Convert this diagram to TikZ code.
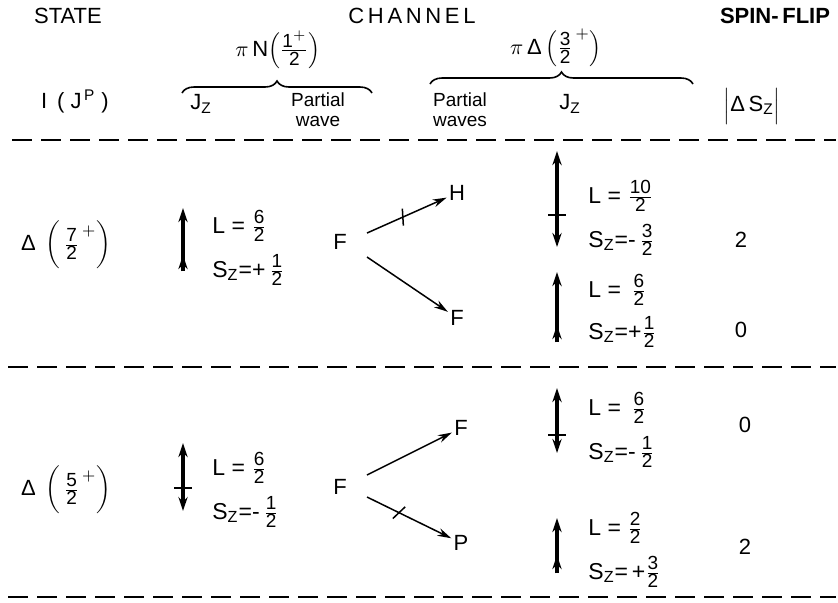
\documentclass[tikz,border=0pt]{standalone}
\usepackage{fontspec}
\setmainfont{Liberation Sans}
\usepackage{tikz}
\usetikzlibrary{arrows.meta,calc,decorations.pathreplacing,decorations.markings,positioning}

% stacked fraction in the text font
\newcommand{\fr}[2]{\ensuremath{\frac{\mbox{\fontsize{9.5}{10}\selectfont #1}}{\mbox{\fontsize{9.5}{10}\selectfont #2}}}}
\newcommand{\Sz}{S\textsubscript{Z}}

\begin{document}
\begin{tikzpicture}[x=0.5pt,y=-0.5pt,>=Stealth,
	font=\fontsize{11}{13}\selectfont,
	lbl/.style={inner sep=1pt},
	lw/.style={inner sep=0pt,anchor=west,font=\fontsize{11.5}{13}\selectfont},
	spin/.style={line width=1.8pt,-{Stealth[length=7pt,width=4.6pt]}},
	conn/.style={line width=0.75pt,-{Stealth[length=7pt,width=4pt]}},
	ticked/.style={postaction={decorate,decoration={markings,
		mark=at position #1 with {\draw[-,line width=0.75pt] (-1.5pt,-4pt) -- (1.5pt,4pt);}}}},
	sep/.style={line width=1.1pt,dash pattern=on 10pt off 4.5pt},
	brc/.style={decorate,decoration={brace,amplitude=6pt},line width=0.8pt}]

	\useasboundingbox (0,0) rectangle (838,602);

	% Column headings
	\node[lbl] (state) at (68,16) {STATE};
	\node[lbl] (channel) at (412,16) {C\,H\,A\,N\,N\,E\,L};
	\node[lbl,font=\fontsize{11}{13}\selectfont\bfseries] (spinflip) at (775,16) {SPIN-\,FLIP};

	\node[lbl] (piN) at (278,50) {$\pi$\,N$\Big(\fr{1$^{+}$}{2}\Big)$};
	\node[lbl] (piD) at (556,48) {$\pi$\,Δ\,$\Big(\fr{3}{2}^{\,+}\Big)$};
	\draw[brc] (182,93) -- (372,93);
	\draw[brc] (430,84) -- (693,84);

	\node[lbl] (IJP) at (75,101) {I\ \,( J\textsuperscript{\,P} )};
	\node[lbl] (Jz1) at (201,104) {J\textsubscript{Z}};
	\node[lbl,align=center,font=\fontsize{9.5}{10}\selectfont] (pw1) at (318,110) {Partial\\wave};
	\node[lbl,align=center,font=\fontsize{9.5}{10}\selectfont] (pw2) at (460,110) {Partial\\waves};
	\node[lbl] (Jz2) at (570,104) {J\textsubscript{Z}};
	\node[inner sep=0pt] (dSz) at (752,106) {$\Big|\mbox{Δ\,\Sz}\Big|$};

	% Separators
	\draw[sep] (12,140) -- (836,140);
	\draw[sep] (8,367) -- (836,367);
	\draw[sep] (8,597) -- (836,597);

	% Delta(7/2+)
	\node[lbl] (st1) at (66,245) {Δ\ \,$\bigg(\,\fr{7}{2}^{\,+}\bigg)$};
	\draw[spin] (183,271) -- (183,208);
	\draw[spin] (183,271) -- (183,255);
	\node[lw] (L1) at (212,226) {L = \fr{6}{2}};
	\node[lw] (S1) at (212,270) {\Sz=+\,\fr{1}{2}};
	\node[lbl] (F1) at (340,242) {F};
	\node[lbl] (H1) at (457,193) {H};
	\node[lbl] (G1) at (457,318) {F};
	\draw[conn,ticked=0.45] ([shift={(27,-9)}]F1.center) -- (H1);
	\draw[conn] ([shift={(27,15)}]F1.center) -- (G1);

	\draw[spin] (557,215) -- (557,151);
	\draw[spin] (557,215) -- (557,247);
	\draw[line width=1pt] (548,215) -- (566,215);
	\node[lw] (L2) at (588,196) {L = \fr{10}{2}};
	\node[lw] (S2) at (588,240) {\Sz=-\,\fr{3}{2}};
	\node[lbl] (f1) at (741,240) {2};

	\draw[spin] (557,342) -- (557,272);
	\draw[spin] (557,342) -- (557,325);
	\node[lw] (L3) at (588,290) {L = \,\fr{6}{2}};
	\node[lw] (S3) at (588,332) {\Sz=+\fr{1}{2}};
	\node[lbl] (f2) at (741,330) {0};

	% Delta(5/2+)
	\node[lbl] (st2) at (66,490) {Δ\ \,$\bigg(\,\fr{5}{2}^{\,+}\bigg)$};
	\draw[spin] (183,488) -- (183,443);
	\draw[spin] (183,488) -- (183,511);
	\draw[line width=1pt] (174,488) -- (192,488);
	\node[lw] (L4) at (212,468) {L = \fr{6}{2}};
	\node[lw] (S4) at (212,512) {\Sz=-\,\fr{1}{2}};
	\node[lbl] (F2) at (340,487) {F};
	\node[lbl] (G2) at (461,428) {F};
	\node[lbl] (P2) at (461,543) {P};
	\draw[conn] ([shift={(27,-12)}]F2.center) -- (G2);
	\draw[conn,ticked=0.38] ([shift={(27,10)}]F2.center) -- (P2);

	\draw[spin] (557,435) -- (557,388);
	\draw[spin] (557,435) -- (557,453);
	\draw[line width=1pt] (548,435) -- (566,435);
	\node[lw] (L5) at (588,408) {L = \,\fr{6}{2}};
	\node[lw] (S5) at (588,452) {\Sz=-\,\fr{1}{2}};
	\node[lbl] (f3) at (745,425) {0};

	\draw[spin] (557,573) -- (557,518);
	\draw[spin] (557,573) -- (557,555);
	\node[lw] (L6) at (588,528) {L = \fr{2}{2}};
	\node[lw] (S6) at (588,572) {\Sz=\,+\fr{3}{2}};
	\node[lbl] (f4) at (745,547) {2};

\end{tikzpicture}
\end{document}
